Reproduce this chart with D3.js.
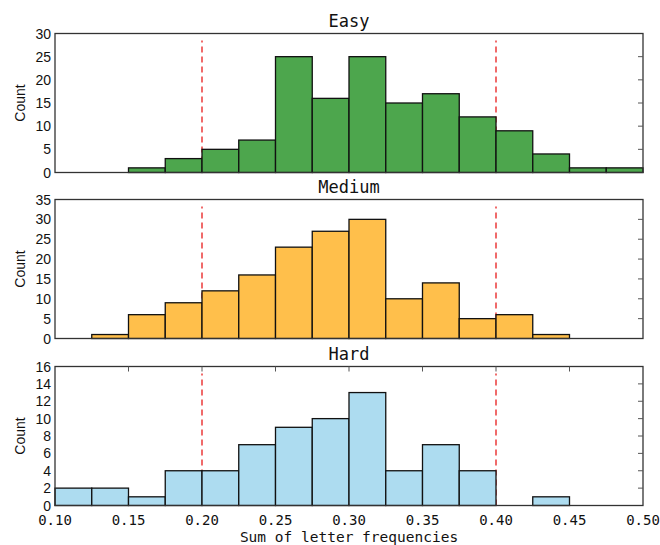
<!DOCTYPE html>
<html lang="en">
<head>
<meta charset="UTF-8">
<title>Letter frequency histograms</title>
<style>
  body { margin: 0; background: #fff; }
  svg { display: block; }
</style>
</head>
<body>
<script src="https://d3js.org/d3.v7.min.js"></script>
<div id="chart"></div>
<script>
// bin left edges (width 0.025)
const binStarts = [0.100, 0.125, 0.150, 0.175, 0.200, 0.225, 0.250, 0.275,
                   0.300, 0.325, 0.350, 0.375, 0.400, 0.425, 0.450, 0.475];
const binWidth = 0.025;

const easyCounts   = [0, 0, 1, 3, 5, 7, 25, 16, 25, 15, 17, 12, 9, 4, 1, 1];
const mediumCounts = [0, 1, 6, 9, 12, 16, 23, 27, 30, 10, 14, 5, 6, 1, 0, 0];
const hardCounts   = [2, 2, 1, 4, 4, 7, 9, 10, 13, 4, 7, 4, 0, 1, 0, 0];

const panelNames = ["Easy", "Medium", "Hard"];
const panelColors = ["#3e9e3e", "#ffba3c", "#a6d9ef"];
const yMaxes = [30, 35, 16];
const yTickSteps = [5, 5, 2];

const xTicks = [0.10, 0.15, 0.20, 0.25, 0.30, 0.35, 0.40, 0.45, 0.50];
const cutoffs = [0.20, 0.40];

const W = 660, H = 545;
const left = 55, right = 643;
const panelTops = [33.5, 199.5, 366.5];
const panelH = 139;

const svg = d3.select("#chart").append("svg")
  .attr("width", W).attr("height", H);

const x = d3.scaleLinear().domain([0.10, 0.50]).range([left, right]);

const allCounts = [easyCounts, mediumCounts, hardCounts];

allCounts.forEach((counts, i) => {
  const top = panelTops[i];
  const y = d3.scaleLinear().domain([0, yMaxes[i]]).range([top + panelH, top]);
  const g = svg.append("g");

  // red dashed cutoff lines (behind the bars)
  cutoffs.forEach(c => {
    g.append("line")
      .attr("x1", x(c)).attr("x2", x(c))
      .attr("y1", y(0)).attr("y2", y(yMaxes[i] * 0.95))
      .attr("stroke", "#f06a6a")
      .attr("stroke-width", 2)
      .attr("stroke-dasharray", "6,4");
  });

  const bins = binStarts.map((s, j) => ({ x0: s, x1: s + binWidth, n: counts[j] }))
    .filter(d => d.n > 0);

  g.selectAll("rect.bar").data(bins).enter().append("rect")
    .attr("class", "bar")
    .attr("x", d => x(d.x0))
    .attr("width", d => x(d.x1) - x(d.x0))
    .attr("y", d => y(d.n))
    .attr("height", d => y(0) - y(d.n))
    .attr("fill", panelColors[i])
    .attr("fill-opacity", 0.92)
    .attr("stroke", "#111")
    .attr("stroke-width", 1.3);

  // frame
  g.append("rect")
    .attr("x", left).attr("y", top)
    .attr("width", right - left).attr("height", panelH)
    .attr("fill", "none")
    .attr("stroke", "#333")
    .attr("stroke-width", 1.3);

  // y ticks & labels
  const yTicks = d3.range(0, yMaxes[i] + 0.001, yTickSteps[i]);
  g.selectAll("text.ytick").data(yTicks).enter().append("text")
    .attr("x", left - 4)
    .attr("y", d => y(d))
    .attr("dy", "0.36em")
    .attr("text-anchor", "end")
    .attr("font-family", "'Liberation Sans', Arial, sans-serif")
    .attr("font-size", 14)
    .attr("fill", "#111")
    .text(d => d);

  g.selectAll("line.ytick").data(yTicks.slice(1, -1)).enter().append("line")
    .attr("x1", right).attr("x2", right - 5)
    .attr("y1", d => y(d)).attr("y2", d => y(d))
    .attr("stroke", "#555");

  // axis label
  g.append("text")
    .attr("transform", `translate(25,${top + panelH / 2}) rotate(-90)`)
    .attr("text-anchor", "middle")
    .attr("font-family", "'Liberation Sans', Arial, sans-serif")
    .attr("font-size", 14)
    .attr("fill", "#111")
    .text("Count");

  // title
  g.append("text")
    .attr("x", (left + right) / 2)
    .attr("y", top - 7)
    .attr("text-anchor", "middle")
    .attr("font-family", "'DejaVu Sans Mono', monospace")
    .attr("font-size", 17)
    .attr("fill", "#111")
    .text(panelNames[i]);

  if (i === 2) {
    g.selectAll("line.xtick").data(xTicks.slice(1, -1)).enter().append("line")
      .attr("x1", d => x(d)).attr("x2", d => x(d))
      .attr("y1", top).attr("y2", top + 5)
      .attr("stroke", "#555");

    g.selectAll("text.xtick").data(xTicks).enter().append("text")
      .attr("x", d => x(d))
      .attr("y", top + panelH + 19)
      .attr("text-anchor", "middle")
      .attr("font-family", "'DejaVu Sans Mono', monospace")
      .attr("font-size", 14)
      .attr("fill", "#111")
      .text(d => d.toFixed(2));

    g.append("text")
      .attr("x", (left + right) / 2)
      .attr("y", top + panelH + 36)
      .attr("text-anchor", "middle")
      .attr("font-family", "'DejaVu Sans Mono', monospace")
      .attr("font-size", 14.5)
      .attr("fill", "#111")
      .text("Sum of letter frequencies");
  }
});
</script>
</body>
</html>
